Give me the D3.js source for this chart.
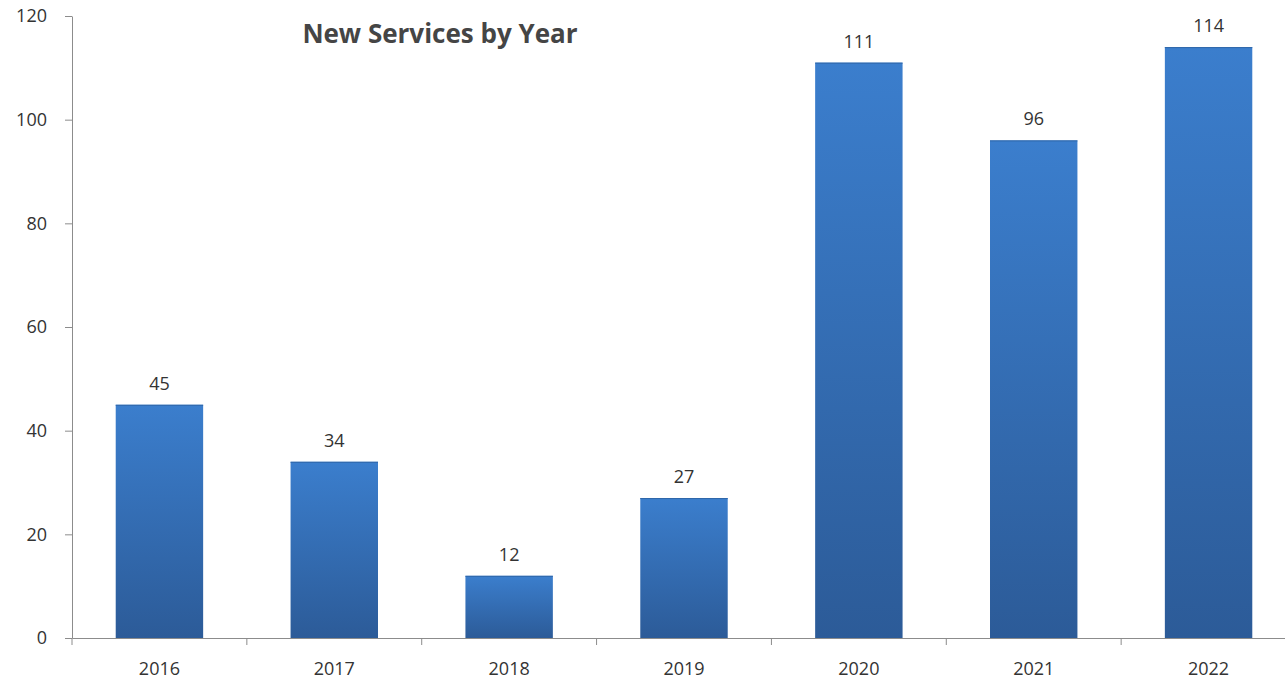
<!DOCTYPE html>
<html>
  <head>
    <meta charset="UTF-8" />
    <title>New Services by Year</title>
    <script src="https://d3js.org/d3.v7.min.js"></script>
    <style>
      body { margin: 0; background: #fff; }
      svg text { font-family: "Open Sans", "Liberation Sans", sans-serif; fill: #333; }
      .axis path, .axis line { stroke: #8c8c8c; }
    </style>
  </head>
  <body>
    <div id="chart"></div>
    <script>
      // Dados do gráfico
      var years = ["2016", "2017", "2018", "2019", "2020", "2021", "2022"];
      var services = [45, 34, 12, 27, 111, 96, 114];
      var yTicks = [0, 20, 40, 60, 80, 100, 120];

      var data = years.map((y, i) => ({ ano: y, total: services[i] }));

      // Dimensões (evitar "top", que é global da janela)
      var chartW = 1285, chartH = 679;
      var axisLeft = 72, axisBottom = 638, axisTop = 16, axisRight = 1296;

      var svg = d3.select("#chart").append("svg")
        .attr("width", chartW)
        .attr("height", chartH);

      // Gradiente das barras (claro em cima, escuro em baixo)
      var grad = svg.append("defs").append("linearGradient")
        .attr("id", "barGrad")
        .attr("x1", 0).attr("y1", 0).attr("x2", 0).attr("y2", 1);
      grad.append("stop").attr("offset", "0%").attr("stop-color", "#3b7ecd");
      grad.append("stop").attr("offset", "100%").attr("stop-color", "#2c5b98");

      // Escalas
      var x = d3.scaleBand().domain(years).range([axisLeft, axisRight]).padding(0);
      var y = d3.scaleLinear().domain([0, 120]).range([axisBottom, axisTop]);

      // Eixo Y
      svg.append("g")
        .attr("class", "axis")
        .attr("transform", "translate(" + axisLeft + ",0)")
        .call(d3.axisLeft(y).tickValues(yTicks).tickSize(7).tickSizeOuter(0).tickPadding(18))
        .call((g) => g.selectAll("text").style("font-size", "18px"));

      // Eixo X
      svg.append("g")
        .attr("class", "axis x-axis")
        .attr("transform", "translate(0," + axisBottom + ")")
        .call(d3.axisBottom(x).tickSize(0).tickSizeOuter(0).tickPadding(24))
        .call((g) => g.selectAll("text").style("font-size", "18px"));

      // Marcas entre categorias
      svg.append("g")
        .attr("class", "axis")
        .selectAll("line")
        .data(years)
        .enter()
        .append("line")
        .attr("x1", (d) => x(d))
        .attr("x2", (d) => x(d))
        .attr("y1", axisBottom)
        .attr("y2", axisBottom + 7);

      // Barras
      var bw = x.bandwidth() * 0.5;
      svg.selectAll(".bar")
        .data(data)
        .enter()
        .append("rect")
        .attr("class", "bar")
        .attr("x", (d) => x(d.ano) + (x.bandwidth() - bw) / 2)
        .attr("width", bw)
        .attr("y", (d) => y(d.total))
        .attr("height", (d) => axisBottom - y(d.total))
        .attr("fill", "url(#barGrad)");

      // Linha superior das barras
      svg.selectAll(".bar-top")
        .data(data)
        .enter()
        .append("line")
        .attr("x1", (d) => x(d.ano) + (x.bandwidth() - bw) / 2)
        .attr("x2", (d) => x(d.ano) + (x.bandwidth() + bw) / 2)
        .attr("y1", (d) => y(d.total) + 0.5)
        .attr("y2", (d) => y(d.total) + 0.5)
        .attr("stroke", "#2f66a8")
        .attr("stroke-width", 1);

      // Rótulos de valor
      svg.selectAll(".label")
        .data(data)
        .enter()
        .append("text")
        .attr("x", (d) => x(d.ano) + x.bandwidth() / 2)
        .attr("y", (d) => y(d.total) - 15)
        .attr("text-anchor", "middle")
        .style("font-size", "18px")
        .text((d) => d.total);

      // Título
      svg.append("text")
        .attr("x", 440)
        .attr("y", 43)
        .attr("text-anchor", "middle")
        .style("font-size", "26px")
        .style("font-weight", "bold")
        .style("fill", "#454545")
        .text("New Services by Year");
    </script>
  </body>
</html>
